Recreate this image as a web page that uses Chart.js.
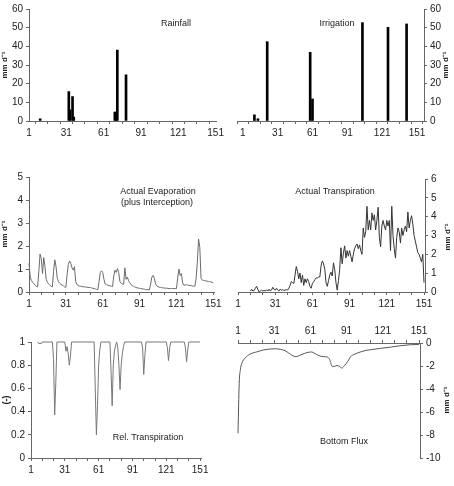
<!DOCTYPE html>
<html>
<head>
<meta charset="utf-8">
<script src="https://cdn.jsdelivr.net/npm/chart.js@4/dist/chart.umd.min.js"></script>
<style>
  html, body { margin: 0; padding: 0; background: #fff; }
  #page { position: relative; width: 454px; height: 486px; overflow: hidden; }
  #page canvas { position: absolute; }
</style>
</head>
<body>
<div id="page">
  <canvas id="rainChart" width="227" height="140" style="left:0;top:0"></canvas>
  <canvas id="irrChart" width="227" height="140" style="left:227px;top:0"></canvas>
  <canvas id="evapChart" width="227" height="171" style="left:0;top:140px"></canvas>
  <canvas id="transpChart" width="227" height="171" style="left:227px;top:140px"></canvas>
  <canvas id="relChart" width="227" height="175" style="left:0;top:311px"></canvas>
  <canvas id="fluxChart" width="227" height="175" style="left:227px;top:311px"></canvas>
</div>
<script>
// day axis ticks: a tick mark every 10 days, a label every 30
const dayTickValues = [1, 11, 21, 31, 41, 51, 61, 71, 81, 91, 101, 111, 121, 131, 141, 151];
const dayTickLabels = [1, 31, 61, 91, 121, 151];

// Rainfall (mm/d)
const rainfallDays = [10, 33, 34, 36, 37, 70, 71, 72, 79];
const rainfallValues = [1.2, 15.8, 6, 13.1, 2.1, 4.8, 4.8, 38, 24.7];

// Irrigation (mm/d)
const irrigationDays = [11, 14, 22, 59, 61, 104, 126, 142];
const irrigationValues = [3.3, 1.2, 42.5, 36.8, 11.8, 52.7, 50.2, 52];

// Actual evaporation plus interception (mm/d), days 1..151
const evaporationValues = [
  1.25, 0.65, 0.5, 0.42, 0.36, 0.3, 0.25, 0.22, 0.9, 1.65,
  1.45, 0.8, 1.5, 1.1, 0.55, 0.42, 0.35, 0.3, 0.25, 0.22,
  0.9, 1.4, 1.1, 0.6, 0.45, 0.38, 0.33, 0.3, 0.27, 0.22,
  0.2, 0.75, 1.2, 1.35, 1.25, 1.05, 0.95, 1.1, 0.45, 0.32,
  0.28, 0.26, 0.25, 0.24, 0.23, 0.22, 0.22, 0.21, 0.2, 0.2,
  0.19, 0.18, 0.16, 0.15, 0.13, 0.11, 0.1, 0.45, 0.85, 0.92,
  0.85, 0.55, 0.35, 0.32, 0.3, 0.28, 0.27, 0.25, 0.24, 0.7,
  0.95, 0.85, 1.02, 0.85, 0.45, 0.38, 0.35, 0.33, 1.05, 0.55,
  0.65, 0.5, 0.4, 0.32, 0.28, 0.25, 0.22, 0.2, 0.18, 0.17,
  0.16, 0.15, 0.14, 0.13, 0.12, 0.11, 0.1, 0.1, 0.09, 0.35,
  0.65, 0.72, 0.6, 0.35, 0.27, 0.23, 0.21, 0.2, 0.19, 0.18,
  0.17, 0.17, 0.16, 0.16, 0.15, 0.15, 0.15, 0.15, 0.15, 0.15,
  0.15, 0.6, 1.0, 0.72, 0.8, 0.4, 0.3, 0.3, 0.32, 0.3,
  0.3, 0.28, 0.28, 0.26, 0.25, 0.25, 0.6, 1.3, 2.3, 1.95,
  0.6, 0.52, 0.5, 0.5, 0.48, 0.47, 0.46, 0.45, 0.44, 0.42,
  0.4
];

// Actual transpiration (mm/d), days 1..151 (no crop before day 11)
const transpirationValues = [
  null, null, null, null, null, null, null, null, null, null,
  0.05, 0.15, 0.05, 0.08, 0.2, 0.3, 0.15, 0.0, 0.05, 0.1,
  0.05, 0.08, 0.05, 0.12, 0.05, 0.15, 0.05, 0.1, 0.25, 0.15,
  0.1, 0.2, 0.1, 0.05, 0.15, 0.1, 0.12, 0.08, 0.1, 0.12,
  0.1, 0.2, 0.35, 0.55, 0.5, 0.45, 0.9, 1.35, 1.1, 0.7,
  1.0, 0.5, 0.9, 0.35, 0.7, 0.5, 0.7, 0.55, 0.3, 0.2,
  0.45, 0.55, 0.65, 0.75, 0.75, 0.8, 0.8, 1.4, 1.65, 1.5,
  1.2, 0.5, 0.3, 0.6, 0.9, 1.05, 0.85, 1.55, 1.2, 0.5,
  0.1, 0.6, 1.2, 2.35, 1.5, 2.05, 2.45, 1.8, 2.2, 1.9,
  2.2, 1.9, 1.6, 2.0, 2.3, 2.45, 2.55, 2.3, 2.5, 2.2,
  2.0, 3.4, 2.9, 3.2, 4.55, 3.3, 3.8, 3.3, 4.2, 3.8,
  4.1, 3.3, 3.8, 4.5, 2.9, 2.4, 3.5, 3.8, 3.5, 3.3,
  3.8, 3.5, 3.8, 2.2, 4.55, 3.0, 2.3, 1.8, 2.9, 3.4,
  3.2, 2.6, 3.4, 3.0, 3.3, 3.5, 3.2, 4.25, 3.4, 3.8,
  4.05, 3.6, 3.0, 2.7, 2.4, 2.1, 2.0, 1.8, 1.6, 2.0,
  0.5
];

// Relative transpiration (-)
const relTranspDays = [7, 8, 9, 10, 11, 20, 21, 22, 23, 24, 31, 32, 33, 34, 35, 36, 37,
  57, 58, 59, 60, 61, 62, 63, 71, 72, 73, 74, 75, 76, 77, 78, 79, 80, 81, 82, 83, 84,
  99, 100, 101, 102, 103, 121, 122, 123, 124, 125, 137, 138, 139, 140, 141, 151];
const relTranspValues = [1, 0.985, 0.99, 0.985, 1, 1, 0.85, 0.37, 0.65, 1, 1, 0.92, 0.96, 0.9, 0.8, 0.88, 1,
  1, 0.6, 0.2, 0.45, 0.8, 0.93, 1, 1, 0.75, 0.45, 0.8, 0.92, 0.97, 1, 0.95, 0.8, 0.59, 0.8, 0.9, 0.96, 1,
  1, 0.95, 0.72, 0.88, 1, 1, 0.95, 0.84, 0.95, 1, 1, 0.95, 0.83, 0.93, 1, 1];

// Bottom flux (mm/d)
const bottomFluxDays = [1, 2, 3, 4, 7, 11, 17, 22, 28, 32, 36, 40, 43, 46, 49, 51, 54, 58, 62, 64,
  68, 72, 75, 77, 79, 81, 83, 85, 87, 89, 92, 94, 98, 103, 107, 111, 119, 128, 136, 144, 151];
const bottomFluxValues = [-7.85, -3.5, -2.3, -1.8, -1.3, -0.96, -0.76, -0.61, -0.52, -0.5, -0.55, -0.67, -0.87, -1.08, -1.19, -1.13, -0.99, -0.84, -0.78, -0.87,
  -1.1, -1.19, -1.22, -1.45, -2.03, -2.03, -1.95, -2.03, -2.18, -1.98, -1.6, -1.22, -0.96, -0.76, -0.64, -0.58, -0.47, -0.35, -0.23, -0.15, -0.12];

const AXIS = '#666';
const FONT = '"Liberation Sans", Arial, sans-serif';
Chart.defaults.font.family = FONT;
Chart.defaults.font.size = 10;
Chart.defaults.color = '#222';

// small plugin for the panel captions and rotated axis titles
const panelText = {
  id: 'panelText',
  afterDraw(chart, args, opts) {
    const ctx = chart.ctx;
    (opts.items || []).forEach(it => {
      ctx.save();
      ctx.font = it.font || '9px ' + FONT;
      ctx.fillStyle = '#222';
      ctx.textAlign = 'center';
      ctx.textBaseline = 'middle';
      ctx.translate(it.x, it.y);
      if (it.rotate) ctx.rotate(-Math.PI / 2);
      ctx.fillText(it.text, 0, 0);
      ctx.restore();
    });
  }
};

const UNIT = 'mm d\u207B\u00B9';
const titleFont = 'bold 8px ' + FONT;

function pairs(xs, ys) {
  return xs.map((x, i) => ({ x, y: ys[i] }));
}

function dayAxis(min, max, position, height) {
  return {
    type: 'linear',
    position: position || 'bottom',
    min, max,
    offset: false,
    grid: { drawOnChartArea: false, tickLength: 3, color: AXIS },
    border: { color: AXIS },
    afterBuildTicks: axis => { axis.ticks = dayTickValues.map(v => ({ value: v })); },
    afterFit: s => { s.height = height; },
    ticks: {
      autoSkip: false,
      maxRotation: 0,
      padding: 3,
      callback: v => (dayTickLabels.includes(v) ? String(v) : '')
    }
  };
}

function valueAxis(min, max, step, position, width) {
  return {
    type: 'linear',
    position,
    min, max,
    grid: { drawOnChartArea: false, tickLength: 3, color: AXIS },
    border: { color: AXIS },
    afterFit: s => { s.width = width; },
    ticks: { stepSize: step, padding: 3, callback: v => String(+Number(v).toFixed(1)) }
  };
}

function makeChart(id, type, dataset, scales, padding, items) {
  const ctx = document.getElementById(id).getContext('2d');
  return new Chart(ctx, {
    type,
    data: { datasets: [dataset] },
    options: {
      responsive: false,
      animation: false,
      devicePixelRatio: 1,
      events: [],
      layout: { padding },
      plugins: {
        legend: { display: false },
        tooltip: { enabled: false },
        panelText: { items }
      },
      scales
    },
    plugins: [panelText]
  });
}

function barSet(days, vals) {
  return {
    data: pairs(days, vals),
    backgroundColor: '#000',
    borderWidth: 0,
    barThickness: 2
  };
}

function lineSet(days, vals, color, smooth) {
  return {
    data: pairs(days, vals),
    borderColor: color,
    borderWidth: 1,
    pointRadius: 0,
    tension: 0,
    cubicInterpolationMode: smooth ? 'monotone' : 'default',
    spanGaps: false,
    clip: false
  };
}

const evapDays = evaporationValues.map((v, i) => i + 1);
const transpDays = transpirationValues.map((v, i) => i + 1);

makeChart('rainChart', 'bar', barSet(rainfallDays, rainfallValues), {
  x: dayAxis(1, 152, 'bottom', 19),
  y: valueAxis(0, 60, 10, 'left', 29)
}, { top: 9, left: 0, right: 8.5, bottom: 0 }, [
  { text: UNIT, x: 5, y: 65, rotate: true, font: titleFont },
  { text: 'Rainfall', x: 176, y: 24 }
]);

makeChart('irrChart', 'bar', barSet(irrigationDays, irrigationValues), {
  x: dayAxis(-4, 157, 'bottom', 19),
  y: valueAxis(0, 60, 10, 'right', 30)
}, { top: 9, left: 10, right: 0, bottom: 0 }, [
  { text: UNIT, x: 219, y: 65, rotate: true, font: titleFont },
  { text: 'Irrigation', x: 110, y: 24 }
]);

makeChart('evapChart', 'line', lineSet(evapDays, evaporationValues, '#6b6b6b'), {
  x: dayAxis(1, 151.8, 'bottom', 19),
  y: valueAxis(0, 5, 1, 'left', 29)
}, { top: 37, left: 0, right: 12.7, bottom: 0 }, [
  { text: UNIT, x: 5, y: 94, rotate: true, font: titleFont },
  { text: 'Actual Evaporation', x: 158, y: 52 },
  { text: '(plus Interception)', x: 157, y: 63 }
]);

makeChart('transpChart', 'line', lineSet(transpDays, transpirationValues, '#333'), {
  x: dayAxis(1, 151.8, 'bottom', 19),
  y: valueAxis(0, 6, 1, 'right', 29)
}, { top: 39, left: 11, right: 0, bottom: 0 }, [
  { text: UNIT, x: 220.5, y: 97, rotate: true, font: titleFont },
  { text: 'Actual Transpiration', x: 108, y: 52 }
]);

makeChart('relChart', 'line', lineSet(relTranspDays, relTranspValues, '#777'), {
  x: dayAxis(1, 151.8, 'bottom', 28),
  y: valueAxis(0, 1, 0.2, 'left', 31)
}, { top: 31, left: 0, right: 26, bottom: 0 }, [
  { text: '(-)', x: 6.5, y: 89, rotate: true, font: 'bold 9px ' + FONT },
  { text: 'Rel. Transpiration', x: 148, y: 127 }
]);

makeChart('fluxChart', 'line', lineSet(bottomFluxDays, bottomFluxValues, '#555', true), {
  x: dayAxis(1, 151.8, 'top', 32),
  y: valueAxis(-10, 0, 2, 'right', 34)
}, { top: 0, left: 11, right: 0, bottom: 28 }, [
  { text: UNIT, x: 219.5, y: 89, rotate: true, font: titleFont },
  { text: 'Bottom Flux', x: 117, y: 131 }
]);
</script>
</body>
</html>
